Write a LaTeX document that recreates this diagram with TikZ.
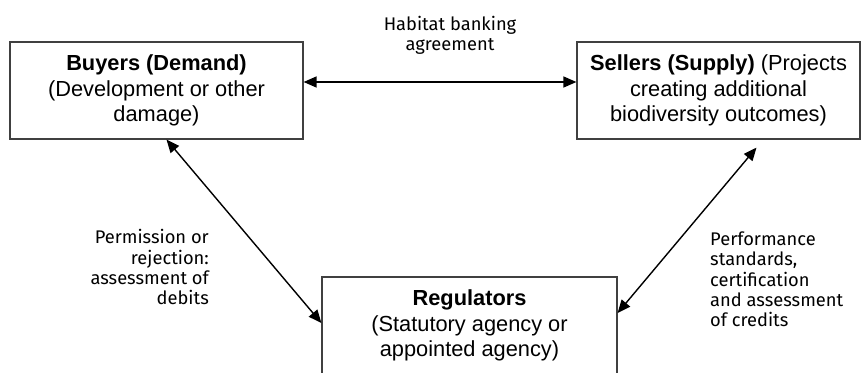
\documentclass[tikz,border=0pt]{standalone}
\usepackage{fontspec}
\setmainfont{Liberation Sans}
\newfontfamily\lblfont{Fira Sans}
\usetikzlibrary{arrows.meta}
\begin{document}
\begin{tikzpicture}[x=1pt,y=-1pt,
  box/.style={draw=black!75,line width=1.2pt,minimum height=97pt,inner sep=0pt,
    font=\fontsize{21.8}{25.5}\selectfont,align=center},
  lbl/.style={font=\lblfont\fontsize{18.3}{20.3}\selectfont,inner sep=0pt},
  conn/.style={line width=1.4pt,{Triangle[length=13pt,width=11pt]}-{Triangle[length=13pt,width=11pt]}}]
\useasboundingbox (0,0) rectangle (861,372);
\node[box,minimum width=293pt] (buyers) at (156.5,90.5)
  {\textbf{Buyers (Demand)}\\(Development or other\\damage)};
\node[box,minimum width=283pt] (sellers) at (718.5,90.5)
  {\textbf{Sellers (Supply)} (Projects\\creating additional\\biodiversity outcomes)};
\node[box,minimum width=295pt] (reg) at (469.5,325.5)
  {\textbf{Regulators}\\(Statutory agency or\\appointed agency)};
\draw[conn] ([yshift=8.5pt]buyers.east) -- ([yshift=8.5pt]sellers.west);
\draw[conn] ([xshift=10pt]buyers.south) -- ([yshift=2.5pt]reg.west);
\draw[conn] ([xshift=38pt,yshift=-8pt]sellers.south) -- ([yshift=12.5pt]reg.east);
\node[lbl,align=center] (hb) at (450,35) {Habitat banking\\agreement};
\node[lbl,align=right,anchor=north east] (perm) at (209,229.5) {Permission or\\rejection:\\assessment of\\debits};
\node[lbl,align=left,anchor=north west] (perf) at (710,231.5) {Performance\\standards,\\certification\\and assessment\\of credits};
\end{tikzpicture}
\end{document}
